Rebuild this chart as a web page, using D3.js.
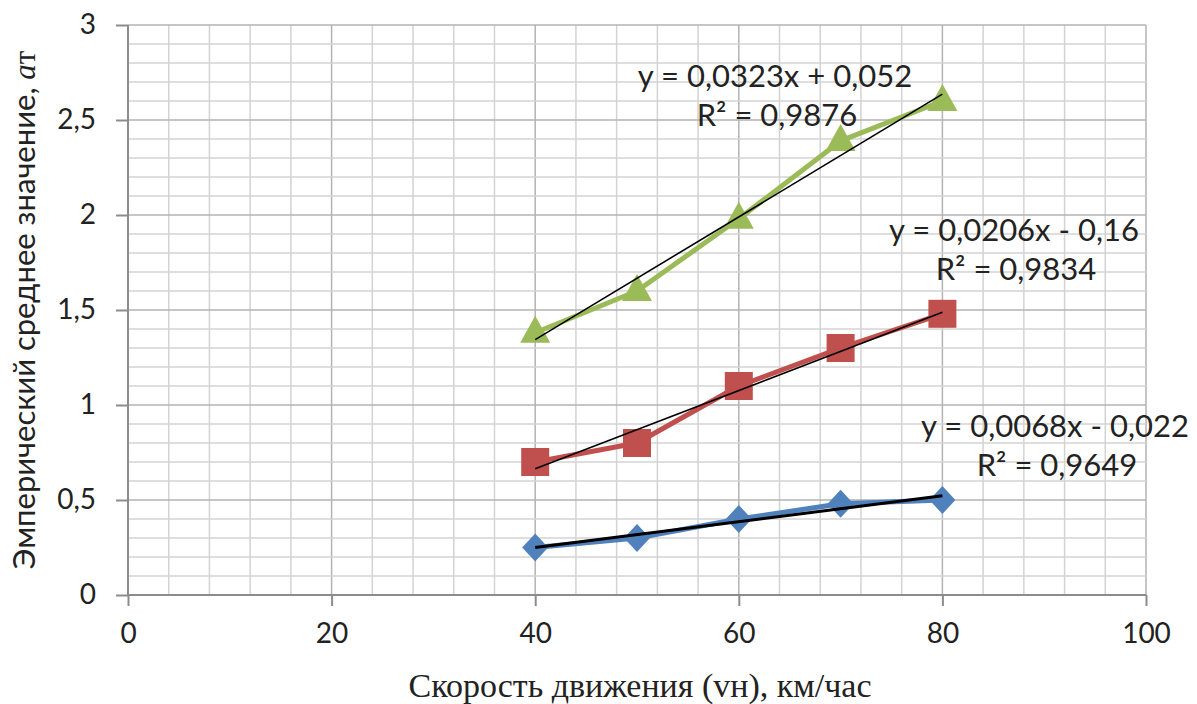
<!DOCTYPE html>
<html>
<head>
<meta charset="utf-8">
<script src="https://cdnjs.cloudflare.com/ajax/libs/d3/7.8.5/d3.min.js"></script>
<style>
  body { margin: 0; background: #fff; }
  svg { display: block; }
</style>
</head>
<body>
<svg width="1197" height="704"></svg>
<script>
// data
const speeds = [ 40, 50, 60, 70, 80 ];
const seriesBlue = [ 0.25, 0.30, 0.40, 0.48, 0.50 ];
const seriesRed = [ 0.70, 0.80, 1.10, 1.30, 1.48 ];
const seriesGreen = [ 1.38, 1.60, 1.98, 2.39, 2.60 ];
const xTicks = [ 0, 20, 40, 60, 80, 100 ];
const yTicks = [ 0, 0.5, 1, 1.5, 2, 2.5, 3 ];
const trendLabels = [
  [ 'y = 0,0068x - 0,022', 'R² = 0,9649' ],
  [ 'y = 0,0206x - 0,16', 'R² = 0,9834' ],
  [ 'y = 0,0323x + 0,052', 'R² = 0,9876' ]
];

const margin = { left: 128, right: 51, top: 25, bottom: 109 };
const width = 1197;
const height = 704;

let svg = d3.select( 'svg' );

let x = d3.scaleLinear().domain( [ 0, 100 ] ).range( [ margin.left, width - margin.right ] );
let y = d3.scaleLinear().domain( [ 0, 3 ] ).range( [ height - margin.bottom, margin.top ] );

const fmt = function( v ) { return String( v ).replace( '.', ',' ); };

// grid
let grid = svg.append( 'g' );
grid.selectAll( '.vx' )
  .data( d3.range( 0, 101, 4 ) )
  .enter().append( 'line' )
  .attr( 'x1', d => x( d ) ).attr( 'x2', d => x( d ) )
  .attr( 'y1', y( 0 ) ).attr( 'y2', y( 3 ) )
  .attr( 'stroke', d => d % 20 === 0 ? '#b3b3b3' : '#d3d3d3' )
  .attr( 'stroke-width', 1.5 );
grid.selectAll( '.hy' )
  .data( d3.range( 0, 31 ).map( i => i / 10 ) )
  .enter().append( 'line' )
  .attr( 'x1', x( 0 ) ).attr( 'x2', x( 100 ) )
  .attr( 'y1', d => y( d ) ).attr( 'y2', d => y( d ) )
  .attr( 'stroke', d => Math.round( d * 10 ) % 5 === 0 ? '#b3b3b3' : '#d3d3d3' )
  .attr( 'stroke-width', 1.5 );

// axes
let xAxis = svg.append( 'g' )
  .attr( 'transform', 'translate(0,' + y( 0 ) + ')' )
  .call( d3.axisBottom( x ).tickValues( xTicks ).tickSize( 11 ).tickPadding( 17 ).tickFormat( fmt ) );
let yAxis = svg.append( 'g' )
  .attr( 'transform', 'translate(' + x( 0 ) + ',0)' )
  .call( d3.axisLeft( y ).tickValues( yTicks ).tickSize( 12 ).tickPadding( 20 ).tickFormat( fmt ) );

[ xAxis, yAxis ].forEach( function( a ) {
  a.select( '.domain' ).attr( 'stroke', '#8c8c8c' ).attr( 'stroke-width', 2 );
  a.selectAll( '.tick line' ).attr( 'stroke', '#8c8c8c' ).attr( 'stroke-width', 2 );
  a.selectAll( '.tick text' )
    .attr( 'fill', '#222' )
    .style( 'font-family', 'Lato, "Open Sans", sans-serif' )
    .style( 'font-size', '28px' );
} );
xAxis.select( '.domain' ).attr( 'd', 'M' + x( 0 ) + ',0H' + x( 100 ) );
yAxis.select( '.domain' ).attr( 'd', 'M0,' + y( 0 ) + 'V' + y( 3 ) );

// series
const series = [
  { values: seriesBlue, color: '#4f81bd', shape: 'diamond', trendWidth: 3 },
  { values: seriesRed, color: '#c0504d', shape: 'square', trendWidth: 1.6 },
  { values: seriesGreen, color: '#9bbb59', shape: 'triangle', trendWidth: 1.6 }
];

function markerPath( shape ) {
  if ( shape === 'diamond' ) return 'M0,-14L13,0L0,14L-13,0Z';
  if ( shape === 'square' ) return 'M-14,-14H14V14H-14Z';
  return 'M0,-17L15,10H-15Z';
}

let line = d3.line().x( d => x( d[ 0 ] ) ).y( d => y( d[ 1 ] ) );

series.forEach( function( s ) {
  let pts = speeds.map( ( v, i ) => [ v, s.values[ i ] ] );
  svg.append( 'path' )
    .attr( 'd', line( pts ) )
    .attr( 'fill', 'none' )
    .attr( 'stroke', s.color )
    .attr( 'stroke-width', 5 )
    .attr( 'stroke-linejoin', 'round' );
  svg.selectAll( null )
    .data( pts )
    .enter().append( 'path' )
    .attr( 'd', markerPath( s.shape ) )
    .attr( 'transform', d => 'translate(' + x( d[ 0 ] ) + ',' + y( d[ 1 ] ) + ')' )
    .attr( 'fill', s.color );
} );

// linear trendlines (least squares)
series.forEach( function( s ) {
  let mx = d3.mean( speeds );
  let my = d3.mean( s.values );
  let sxy = d3.sum( speeds, ( v, i ) => ( v - mx ) * ( s.values[ i ] - my ) );
  let sxx = d3.sum( speeds, v => ( v - mx ) * ( v - mx ) );
  let slope = sxy / sxx;
  let icpt = my - slope * mx;
  let ends = d3.extent( speeds ).map( v => [ v, slope * v + icpt ] );
  svg.append( 'path' )
    .attr( 'd', line( ends ) )
    .attr( 'fill', 'none' )
    .attr( 'stroke', '#000' )
    .attr( 'stroke-width', s.trendWidth );
} );

// trend equation labels
const labelPos = [ [ 1055, 437 ], [ 1014, 241 ], [ 775, 87 ] ];
trendLabels.forEach( function( lbl, i ) {
  let t = svg.append( 'text' )
    .attr( 'text-anchor', 'middle' )
    .attr( 'fill', '#222' )
    .style( 'font-family', 'Lato, "Open Sans", sans-serif' )
    .style( 'font-size', '31px' );
  lbl.forEach( function( str, j ) {
    t.append( 'tspan' )
      .attr( 'x', labelPos[ i ][ 0 ] + ( j === 1 ? 2 : 0 ) )
      .attr( 'y', labelPos[ i ][ 1 ] + j * 39 )
      .text( str );
  } );
} );

// axis titles
svg.append( 'text' )
  .attr( 'x', 640 )
  .attr( 'y', 697 )
  .attr( 'text-anchor', 'middle' )
  .attr( 'fill', '#222' )
  .style( 'font-family', '"Liberation Serif", "Times New Roman", serif' )
  .style( 'font-size', '34px' )
  .text( 'Скорость движения (vн), км/час' );

let yt = svg.append( 'text' )
  .attr( 'transform', 'translate(35,' + ( ( y( 0 ) + y( 3 ) ) / 2 ) + ') rotate(-90)' )
  .attr( 'text-anchor', 'middle' )
  .attr( 'fill', '#222' )
  .style( 'font-family', 'Lato, "Open Sans", sans-serif' )
  .style( 'font-size', '31px' );
yt.append( 'tspan' ).text( 'Эмперический среднее значение, ' );
yt.append( 'tspan' )
  .style( 'font-family', '"Liberation Serif", serif' )
  .style( 'font-style', 'italic' )
  .text( 'a' );
yt.append( 'tspan' )
  .style( 'font-family', '"Liberation Serif", serif' )
  .text( 'т' );
</script>
</body>
</html>
